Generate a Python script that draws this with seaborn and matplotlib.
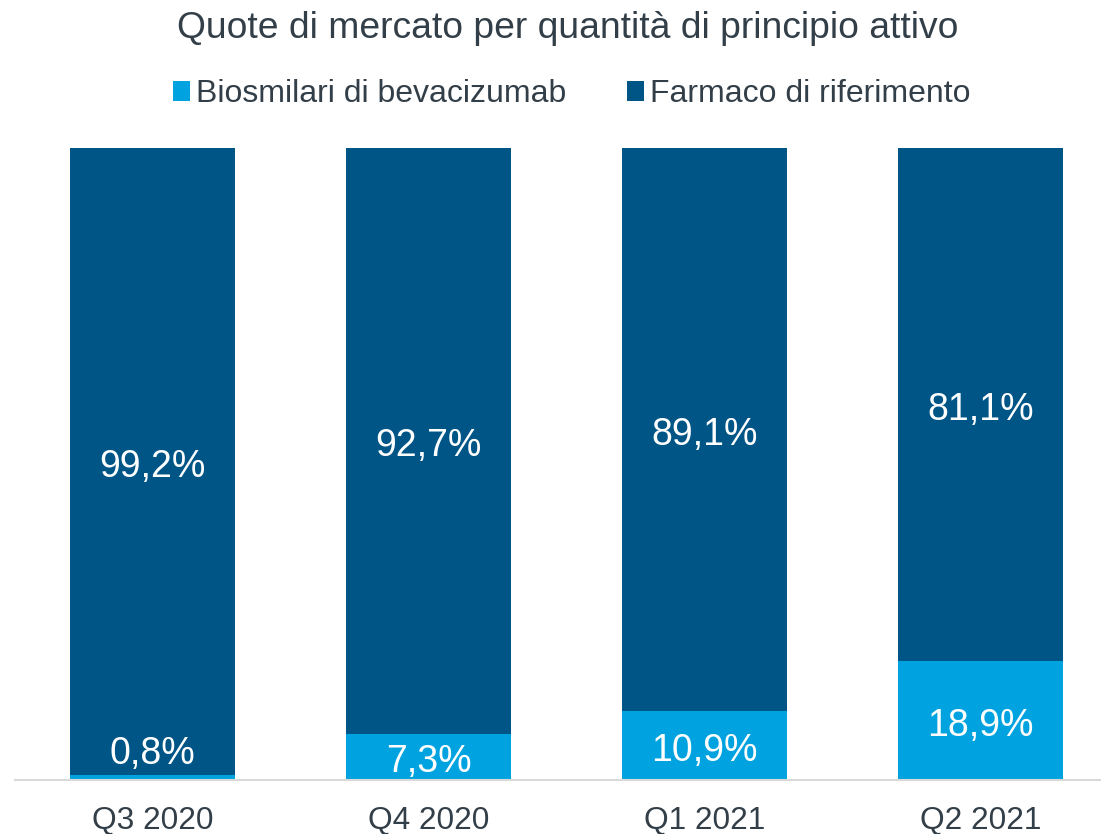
import matplotlib
matplotlib.use("Agg")
import matplotlib.pyplot as plt
import seaborn as sns
import pandas as pd
from matplotlib.patches import Patch

quarters = ["Q3 2020", "Q4 2020", "Q1 2021", "Q2 2021"]
biosimilari = [0.8, 7.3, 10.9, 18.9]
riferimento = [99.2, 92.7, 89.1, 81.1]
series_names = ["Biosmilari di bevacizumab", "Farmaco di riferimento"]

LIGHT = "#00A3E0"
DARK = "#005587"
TEXT = "#333F48"

sns.set_theme(style="white")
plt.rcParams["font.family"] = ["Liberation Sans", "DejaVu Sans"]

df = pd.DataFrame({
    "quarter": quarters,
    "bio": biosimilari,
    "ref": riferimento,
})
df["total"] = df["bio"] + df["ref"]

fig = plt.figure(figsize=(11.01, 8.34), dpi=100)
ax = fig.add_axes([14.5 / 1101, 54 / 834, 1 - 14.5 / 1101, (780 - 148) / 834])

sns.barplot(data=df, x="quarter", y="total", color=DARK, width=0.6,
            saturation=1, ax=ax, errorbar=None)
sns.barplot(data=df, x="quarter", y="bio", color=LIGHT, width=0.6,
            saturation=1, ax=ax, errorbar=None)

for p in ax.patches:
    p.set_edgecolor("none")

ax.set_ylim(0, 100)
ax.set_xlim(-0.5, (1101 - 152.5) / 276)
ax.set_xlabel("")
ax.set_ylabel("")
ax.set_yticks([])
for s in ["top", "right", "left"]:
    ax.spines[s].set_visible(False)
ax.spines["bottom"].set_color("#D9D9D9")
ax.spines["bottom"].set_linewidth(1.5)
ax.tick_params(axis="x", length=0, labelsize=22.8, labelcolor=TEXT, pad=19)

def fmt(v):
    return f"{v:.1f}%".replace(".", ",")

for i, (b, r) in enumerate(zip(biosimilari, riferimento)):
    yb = b / 2 if b >= 2 else 5
    ax.annotate(fmt(b), (i, yb), xytext=(0, -4), textcoords="offset points",
                ha="center", va="center", color="white", fontsize=27)
    ax.annotate(fmt(r), (i, b + r / 2), xytext=(0, -4), textcoords="offset points",
                ha="center", va="center", color="white", fontsize=27)

fig.text(568 / 1101, 1 - 29 / 834, "Quote di mercato per quantità di principio attivo",
         ha="center", va="center", fontsize=26.8, color=TEXT)

handles = [Patch(facecolor=LIGHT, edgecolor="none"), Patch(facecolor=DARK, edgecolor="none")]
fig.legend(handles, series_names, loc="center", bbox_to_anchor=(572 / 1101, 1 - 94 / 834),
           ncol=2, frameon=False, fontsize=23, labelcolor=TEXT,
           handlelength=0.53, handleheight=0.6, handletextpad=0.19, columnspacing=1.91)

fig.savefig("out.png", dpi=100)
